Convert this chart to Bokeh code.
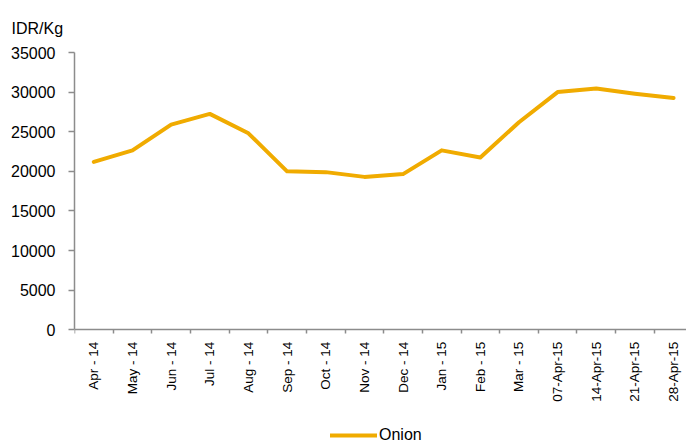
from bokeh.plotting import figure
from bokeh.models import Range1d, FixedTicker, Legend, LegendItem, ColumnDataSource
from bokeh.embed import file_html
from bokeh.resources import INLINE
import math

# ---- data ----
categories = ["Apr - 14", "May - 14", "Jun - 14", "Jul - 14", "Aug - 14", "Sep - 14",
              "Oct - 14", "Nov - 14", "Dec - 14", "Jan - 15", "Feb - 15", "Mar - 15",
              "07-Apr-15", "14-Apr-15", "21-Apr-15", "28-Apr-15"]
onion = [21200, 22650, 25900, 27250, 24800, 20000, 19900, 19300, 19650, 22650,
         21750, 26200, 30000, 30450, 29800, 29250]
y_ticks = [0, 5000, 10000, 15000, 20000, 25000, 30000, 35000]
y_unit = "IDR/Kg"
series_name = "Onion"

LINE_COLOR = "#F0AB00"
AXIS_COLOR = "#8c8c8c"
FONT = "Liberation Sans"

# layout (pixels): plot area from y=52 (35000) to y=329 (0); the frame is extended
# down to the bottom edge so that the legend can sit below the axis labels.
W, H = 686, 442
TOP, ZERO_Y, LEFT = 52, 329.3, 74
y_max = y_ticks[-1]
units_per_px = y_max / (ZERO_Y - TOP)
y_start = -(H - ZERO_Y) * units_per_px
cat_px = 38.65
x_end = -0.5 + (W - LEFT) / cat_px

xs = list(range(len(categories)))
src = ColumnDataSource(dict(x=xs, y=onion, cat=categories))

p = figure(width=W, height=H, output_backend="svg", toolbar_location=None,
           x_range=Range1d(-0.5, x_end), y_range=Range1d(y_start, y_max),
           min_border_left=LEFT, min_border_right=0, min_border_top=TOP,
           min_border_bottom=0)
p.outline_line_color = None
p.xgrid.visible = False
p.ygrid.visible = False
p.background_fill_color = "white"
p.border_fill_color = "white"

r = p.line("x", "y", source=src, line_width=4, line_color=LINE_COLOR,
           line_join="round", line_cap="round")

# title (y unit)
p.title.text = y_unit
p.title.text_font = FONT
p.title.text_font_size = "16px"
p.title.text_font_style = "normal"
p.title.text_color = "#000000"
p.title.align = "left"
p.title.offset = -63
p.title.standoff = 31

# y axis
ya = p.yaxis[0]
ya.ticker = FixedTicker(ticks=y_ticks)
ya.bounds = (0, y_max)
ya.axis_line_color = AXIS_COLOR
ya.axis_line_width = 1.5
ya.major_tick_line_color = AXIS_COLOR
ya.major_tick_line_width = 1.5
ya.major_tick_out = 6
ya.major_tick_in = 0
ya.minor_tick_line_color = None
ya.major_label_text_font = FONT
ya.major_label_text_font_size = "16px"
ya.major_label_text_color = "#000000"
ya.major_label_standoff = 13

# x axis, drawn at y = 0
xa = p.xaxis[0]
xa.fixed_location = 0
xa.ticker = FixedTicker(ticks=xs, minor_ticks=[i - 0.5 for i in range(len(categories) + 1)])
xa.major_label_overrides = {i: c for i, c in enumerate(categories)}
xa.major_label_orientation = math.pi / 2
xa.axis_line_color = AXIS_COLOR
xa.axis_line_width = 1.5
xa.major_tick_out = 0
xa.major_tick_in = 0
xa.major_tick_line_color = None
xa.minor_tick_line_color = AXIS_COLOR
xa.minor_tick_line_width = 1.5
xa.minor_tick_out = 4
xa.minor_tick_in = 0
xa.major_label_text_font = FONT
xa.major_label_text_font_size = "13.5px"
xa.major_label_text_color = "#000000"
xa.major_label_standoff = 8

legend = Legend(items=[LegendItem(label=series_name, renderers=[r])],
                location=(256, -2), orientation="horizontal",
                padding=0, margin=0, spacing=0,
                glyph_width=47, glyph_height=16, label_height=16,
                label_standoff=2,
                label_text_font=FONT, label_text_font_size="16px",
                label_text_color="#000000",
                border_line_color=None, background_fill_alpha=0)
p.add_layout(legend, "center")

open("out.html", "w").write(file_html(p, INLINE))
